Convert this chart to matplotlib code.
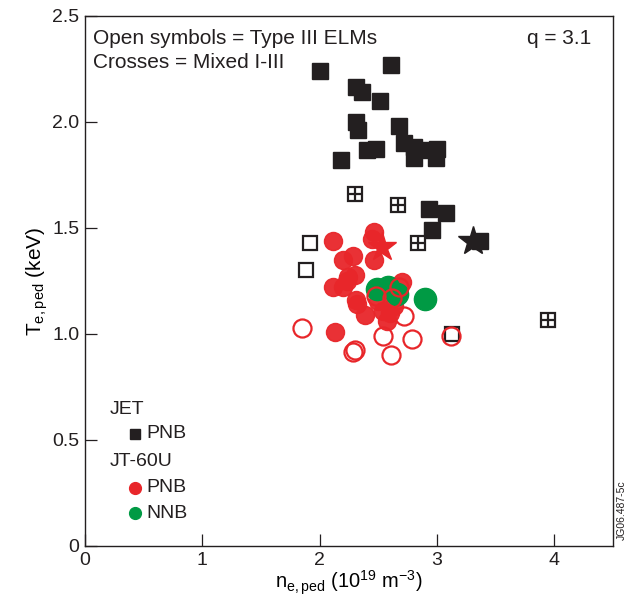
import matplotlib
matplotlib.use("Agg")
import matplotlib.pyplot as plt

plt.rcParams['font.family'] = ['Liberation Sans', 'DejaVu Sans']

# JET PNB, Type I (filled squares)
jet_x = [2.00, 2.61, 2.31, 2.36, 2.51, 2.31, 2.33, 2.68, 2.40, 2.48, 2.18, 2.72,
         2.80, 2.80, 2.92, 3.00, 2.99, 2.93, 3.08, 2.96, 3.37]
jet_y = [2.24, 2.27, 2.165, 2.14, 2.10, 2.00, 1.96, 1.98, 1.87, 1.875, 1.82, 1.90,
         1.88, 1.83, 1.87, 1.875, 1.83, 1.59, 1.57, 1.49, 1.44]
# JET open (Type III)
jet_open_x = [1.92, 1.88, 3.13]
jet_open_y = [1.43, 1.30, 1.00]
# JET mixed I-III (crossed squares)
jet_mix_x = [2.30, 2.67, 2.84, 3.95]
jet_mix_y = [1.66, 1.61, 1.43, 1.065]
# JET star
jet_star_x = [3.31]
jet_star_y = [1.44]

# JT-60U PNB filled
jt_pnb_x = [2.11, 2.46, 2.45, 2.20, 2.28, 2.46, 2.24, 2.30, 2.11, 2.20, 2.23,
            2.31, 2.32, 2.39, 2.50, 2.54, 2.57, 2.70, 2.13, 2.60, 2.63]
jt_pnb_y = [1.44, 1.48, 1.45, 1.35, 1.37, 1.35, 1.27, 1.28, 1.22, 1.22, 1.25,
            1.16, 1.14, 1.09, 1.155, 1.11, 1.06, 1.245, 1.01, 1.10, 1.13]
# JT-60U PNB open (Type III)
jt_open_x = [1.85, 2.72, 2.54, 2.79, 3.12, 2.28, 2.30, 2.61, 2.48, 2.62, 2.68]
jt_open_y = [1.03, 1.085, 0.99, 0.975, 0.99, 0.915, 0.925, 0.90, 1.18, 1.17, 1.22]
# JT-60U star
jt_star_x = [2.53]
jt_star_y = [1.41]
# JT-60U NNB
jt_nnb_x = [2.49, 2.58, 2.66, 2.90]
jt_nnb_y = [1.21, 1.22, 1.19, 1.165]

BLACK = '#231f20'
RED = '#e8262a'
GREEN = '#009a44'

fig = plt.figure(figsize=(6.33, 6.0), dpi=100)
ax = fig.add_axes([85/633, 54/600, 528/633, 530/600])

ms_sq = 12
ms_c = 13

ax.plot(jet_x, jet_y, 's', ms=ms_sq, color=BLACK, mec=BLACK, ls='none', zorder=3)
ax.plot(jet_open_x, jet_open_y, 's', ms=ms_sq - 1.5, mfc='white', mec=BLACK, mew=1.6, ls='none', zorder=3)
ax.plot(jet_mix_x, jet_mix_y, 's', ms=ms_sq - 1.5, mfc='white', mec=BLACK, mew=1.6, ls='none', zorder=3)
ax.plot(jet_mix_x, jet_mix_y, '+', ms=ms_sq - 1.5, mec=BLACK, mew=1.6, ls='none', zorder=3)
ax.plot(jet_star_x, jet_star_y, '*', ms=22, color=BLACK, ls='none', zorder=3)

ax.plot(jt_pnb_x, jt_pnb_y, 'o', ms=ms_c, color=RED, mec=RED, alpha=0.95, ls='none', zorder=4)
ax.plot(jt_star_x, jt_star_y, '*', ms=21, color=RED, ls='none', zorder=4)
ax.plot(jt_nnb_x, jt_nnb_y, 'o', ms=ms_c + 3, color=GREEN, mec=GREEN, ls='none', zorder=5)
ax.plot(jt_open_x, jt_open_y, 'o', ms=ms_c, mfc='none', mec=RED, mew=1.6, ls='none', zorder=6)

ax.set_xlim(0, 4.5)
ax.set_ylim(0, 2.5)
ax.set_xticks([0, 1, 2, 3, 4])
ax.set_xticklabels(['0', '1', '2', '3', '4'])
ax.set_yticks([0, 0.5, 1.0, 1.5, 2.0, 2.5])
ax.set_yticklabels(['0', '0.5', '1.0', '1.5', '2.0', '2.5'])
ax.tick_params(direction='in', length=8.5, width=0.9, labelsize=14, colors=BLACK, pad=4)
for s in ax.spines.values():
    s.set_linewidth(1.0)
    s.set_color(BLACK)

ax.set_xlabel(r'n$_{\mathregular{e,ped}}$ (10$^{\mathregular{19}}$ m$^{\mathregular{-3}}$)', fontsize=14.5, labelpad=0)
ax.set_ylabel(r'T$_{\mathregular{e,ped}}$ (keV)', fontsize=15, labelpad=2)

ax.text(0.015, 0.975, 'Open symbols = Type III ELMs\nCrosses = Mixed I-III', transform=ax.transAxes,
        ha='left', va='top', fontsize=15, linespacing=1.3, color=BLACK)
ax.text(0.958, 0.975, 'q = 3.1', transform=ax.transAxes, ha='right', va='top', fontsize=15, color=BLACK)

# legend
def tx(px):
    return (px - 85) / 528
def ty(py):
    return (546 - py) / 530

ax.text(tx(110), ty(410), 'JET', transform=ax.transAxes, ha='left', va='center', fontsize=14, color=BLACK)
ax.plot([tx(135)], [ty(434)], 's', ms=7, color=BLACK, transform=ax.transAxes, clip_on=False)
ax.text(tx(146), ty(434), 'PNB', transform=ax.transAxes, ha='left', va='center', fontsize=14, color=BLACK)
ax.text(tx(110), ty(462), 'JT-60U', transform=ax.transAxes, ha='left', va='center', fontsize=14, color=BLACK)
ax.plot([tx(135)], [ty(488)], 'o', ms=8.5, color=RED, transform=ax.transAxes, clip_on=False)
ax.text(tx(146), ty(488), 'PNB', transform=ax.transAxes, ha='left', va='center', fontsize=14, color=BLACK)
ax.plot([tx(135)], [ty(513)], 'o', ms=8.5, color=GREEN, transform=ax.transAxes, clip_on=False)
ax.text(tx(146), ty(513), 'NNB', transform=ax.transAxes, ha='left', va='center', fontsize=14, color=BLACK)

fig.text(622/633, 1 - 510/600, 'JG06.487-5c', rotation=90, ha='center', va='center', fontsize=7.5, color=BLACK)

fig.savefig('out.png', dpi=100)
